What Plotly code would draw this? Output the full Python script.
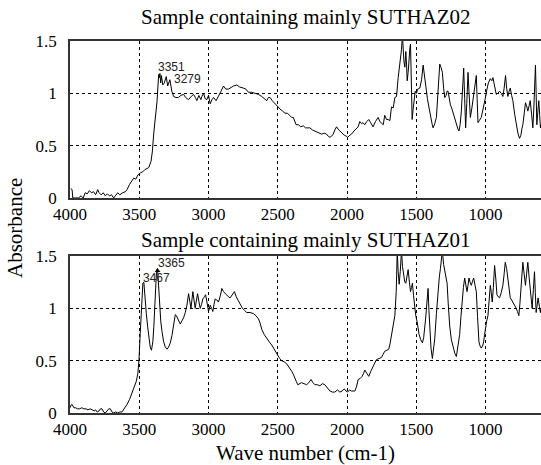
import plotly.graph_objects as go

# ---------------- data ----------------
wn_top = [3995, 3985, 3980, 3960, 3940, 3920, 3905, 3890, 3875, 3860, 3845, 3830, 3815, 3800, 3790, 3775, 3760, 3745,
          3730, 3715, 3700, 3685, 3670, 3655, 3640, 3620, 3600, 3588, 3570, 3555, 3540, 3525, 3510, 3492, 3475, 3460,
          3445, 3432, 3415, 3405, 3396, 3384, 3372, 3360, 3355, 3351, 3345, 3340, 3330, 3319, 3305, 3295, 3285, 3279,
          3265, 3252, 3235, 3218, 3200, 3180, 3165, 3145, 3125, 3108, 3095, 3084, 3070, 3055, 3048, 3035, 3025, 3012,
          3000, 2988, 2975, 2964, 2945, 2928, 2910, 2892, 2875, 2856, 2844, 2820, 2796, 2775, 2748, 2730, 2712, 2690,
          2664, 2640, 2616, 2595, 2580, 2568, 2556, 2540, 2520, 2500, 2484, 2465, 2448, 2430, 2412, 2400, 2388, 2378,
          2368, 2350, 2335, 2316, 2300, 2285, 2268, 2250, 2232, 2215, 2200, 2184, 2165, 2148, 2136, 2124, 2112, 2100,
          2088, 2076, 2060, 2040, 2020, 2005, 1996, 1980, 1968, 1950, 1932, 1920, 1908, 1895, 1885, 1872, 1858, 1843,
          1830, 1820, 1812, 1795, 1776, 1763, 1752, 1739, 1728, 1715, 1704, 1691, 1679, 1667, 1655, 1643, 1631, 1622,
          1614, 1607, 1600, 1595, 1590, 1583, 1576, 1570, 1566, 1559, 1552, 1546, 1542, 1536, 1530, 1523, 1516, 1508,
          1499, 1490, 1475, 1462, 1451, 1445, 1438, 1432, 1420, 1408, 1395, 1385, 1379, 1367, 1355, 1345, 1336, 1331,
          1322, 1312, 1303, 1295, 1285, 1278, 1271, 1262, 1254, 1245, 1237, 1230, 1222, 1211, 1200, 1192, 1184, 1175,
          1166, 1158, 1151, 1144, 1136, 1127, 1120, 1110, 1100, 1091, 1080, 1072, 1067, 1061, 1055, 1045, 1031, 1020,
          1007, 998, 990, 980, 966, 955, 947, 935, 923, 912, 899, 887, 875, 866, 856, 848, 839, 830, 822, 812, 803,
          790, 779, 767, 755, 745, 738, 731, 720, 712, 704, 695, 686, 678, 668, 659, 652, 646, 640, 635, 630, 623,
          616, 610, 604, 600]
abs_top = [0.09, 0.08, 0.0, 0.0, 0.0, 0.02, 0.0, 0.05, 0.04, 0.07, 0.05, 0.06, 0.03, 0.08, 0.05, 0.03, 0.05, 0.02,
           0.04, 0.02, 0.03, 0.0, 0.02, 0.05, 0.03, 0.05, 0.06, 0.08, 0.13, 0.16, 0.19, 0.18, 0.22, 0.24, 0.25, 0.27,
           0.28, 0.29, 0.35, 0.45, 0.61, 0.78, 0.92, 1.18, 1.15, 1.19, 1.10, 1.17, 1.08, 1.10, 1.16, 1.07, 1.11, 1.13,
           1.02, 0.97, 0.96, 0.96, 0.98, 0.99, 0.96, 0.94, 0.97, 0.99, 0.96, 0.93, 0.98, 0.94, 0.97, 1.00, 0.95, 0.94,
           0.98, 0.90, 0.94, 0.96, 0.93, 0.97, 1.02, 1.07, 1.04, 1.04, 1.05, 1.07, 1.08, 1.06, 1.05, 1.04, 1.01, 1.01,
           1.00, 0.99, 0.97, 0.95, 0.93, 0.96, 0.96, 0.93, 0.90, 0.88, 0.85, 0.83, 0.81, 0.81, 0.79, 0.77, 0.77, 0.74,
           0.70, 0.70, 0.68, 0.69, 0.67, 0.67, 0.67, 0.65, 0.64, 0.63, 0.62, 0.61, 0.62, 0.61, 0.59, 0.58, 0.59, 0.61,
           0.65, 0.68, 0.65, 0.62, 0.60, 0.59, 0.58, 0.60, 0.61, 0.64, 0.66, 0.68, 0.73, 0.71, 0.72, 0.70, 0.73, 0.75,
           0.72, 0.70, 0.68, 0.73, 0.77, 0.73, 0.72, 0.70, 0.79, 0.75, 0.75, 0.74, 0.87, 0.86, 0.96, 0.97, 1.15, 1.24,
           1.31, 1.42, 1.55, 1.40, 1.31, 1.25, 1.40, 1.26, 1.12, 1.20, 1.37, 1.44, 1.47, 1.10, 0.75, 0.85, 0.96, 1.02,
           1.00, 1.04, 1.05, 1.13, 1.27, 1.20, 1.10, 1.08, 0.95, 0.86, 0.75, 0.70, 0.67, 0.71, 0.77, 1.00, 1.20, 1.28,
           1.25, 1.20, 1.05, 0.96, 0.98, 1.02, 1.02, 0.95, 0.89, 0.86, 0.82, 0.80, 0.75, 0.70, 0.66, 0.64, 0.70, 0.83,
           1.05, 1.24, 0.95, 0.67, 0.90, 1.20, 1.02, 0.77, 0.85, 0.93, 1.02, 1.12, 1.17, 0.95, 0.72, 0.74, 0.77, 0.84,
           0.91, 0.98, 1.04, 1.10, 1.14, 1.12, 1.15, 1.06, 0.99, 1.00, 1.02, 1.00, 0.97, 1.05, 1.17, 1.05, 0.97, 1.02,
           1.05, 0.98, 0.93, 0.80, 0.70, 0.62, 0.57, 0.60, 0.66, 0.70, 0.82, 0.91, 0.88, 0.83, 0.88, 0.93, 0.80, 0.67,
           0.85, 1.10, 1.27, 1.00, 0.70, 0.82, 0.93, 0.80, 0.67, 0.70]

wn_bot = [4000, 3990, 3984, 3972, 3960, 3945, 3930, 3915, 3900, 3885, 3870, 3855, 3840, 3825, 3815, 3804, 3790, 3780,
          3769, 3757, 3745, 3730, 3720, 3709, 3697, 3685, 3670, 3655, 3640, 3625, 3607, 3589, 3570, 3553, 3538, 3522,
          3510, 3502, 3493, 3481, 3474, 3467, 3462, 3457, 3449, 3440, 3430, 3421, 3412, 3402, 3395, 3387, 3380, 3375,
          3368, 3362, 3353, 3345, 3336, 3324, 3312, 3300, 3288, 3276, 3264, 3252, 3240, 3232, 3223, 3214, 3204, 3192,
          3180, 3168, 3156, 3144, 3135, 3127, 3120, 3113, 3105, 3096, 3088, 3079, 3070, 3060, 3050, 3041, 3030, 3021,
          3010, 3000, 2994, 2988, 2978, 2969, 2960, 2952, 2940, 2928, 2915, 2904, 2892, 2880, 2868, 2856, 2844, 2828,
          2813, 2800, 2784, 2770, 2755, 2740, 2724, 2700, 2676, 2658, 2640, 2628, 2616, 2598, 2580, 2562, 2544, 2520,
          2500, 2486, 2472, 2455, 2436, 2418, 2400, 2388, 2376, 2366, 2356, 2342, 2328, 2310, 2292, 2276, 2260, 2246,
          2232, 2214, 2196, 2178, 2160, 2142, 2124, 2106, 2088, 2070, 2052, 2036, 2020, 2008, 1996, 1982, 1968, 1956,
          1944, 1932, 1920, 1905, 1891, 1880, 1872, 1858, 1843, 1828, 1812, 1800, 1788, 1770, 1752, 1740, 1728, 1712,
          1699, 1690, 1679, 1667, 1655, 1645, 1638, 1631, 1624, 1616, 1607, 1600, 1590, 1583, 1576, 1567, 1559, 1550,
          1542, 1535, 1528, 1520, 1513, 1504, 1494, 1487, 1480, 1468, 1456, 1447, 1439, 1433, 1427, 1421, 1415, 1409,
          1403, 1394, 1384, 1375, 1367, 1355, 1343, 1334, 1326, 1318, 1312, 1303, 1295, 1287, 1278, 1270, 1259, 1247,
          1235, 1222, 1211, 1200, 1187, 1178, 1168, 1160, 1151, 1142, 1134, 1127, 1120, 1112, 1103, 1094, 1086, 1076,
          1067, 1058, 1048, 1040, 1031, 1022, 1014, 1007, 1000, 992, 983, 975, 966, 959, 952, 944, 935, 926, 918, 908,
          899, 887, 875, 866, 858, 848, 839, 830, 822, 812, 803, 790, 779, 770, 760, 752, 743, 737, 731, 722, 712, 704,
          695, 686, 678, 671, 664, 655, 647, 641, 635, 628, 621, 612, 604, 600]
abs_bot = [0.05, 0.08, 0.08, 0.05, 0.05, 0.04, 0.04, 0.05, 0.04, 0.04, 0.03, 0.04, 0.03, 0.02, 0.03, 0.01, 0.02, 0.04,
           0.04, 0.01, 0.0, 0.02, 0.04, 0.04, 0.01, 0.0, 0.01, 0.0, 0.01, 0.01, 0.04, 0.08, 0.13, 0.19, 0.24, 0.30,
           0.38, 0.51, 0.76, 1.08, 1.24, 1.25, 1.15, 1.05, 0.95, 0.83, 0.70, 0.63, 0.60, 0.68, 0.82, 1.03, 1.25, 1.37,
           1.38, 1.22, 0.99, 0.88, 0.78, 0.68, 0.63, 0.61, 0.63, 0.67, 0.74, 0.85, 0.94, 0.93, 0.90, 0.88, 0.85, 0.88,
           0.91, 0.96, 1.03, 1.14, 1.05, 1.00, 1.08, 1.16, 1.08, 1.00, 1.07, 1.14, 1.07, 1.00, 1.04, 1.09, 1.11, 1.13,
           1.05, 0.97, 1.00, 1.03, 1.00, 0.97, 1.04, 1.09, 1.08, 1.06, 1.12, 1.19, 1.16, 1.14, 1.12, 1.11, 1.10, 1.13,
           1.16, 1.11, 1.07, 1.03, 1.00, 0.98, 0.96, 0.96, 0.95, 0.93, 0.90, 0.86, 0.80, 0.75, 0.71, 0.68, 0.65, 0.59,
           0.54, 0.52, 0.50, 0.49, 0.47, 0.44, 0.40, 0.37, 0.34, 0.30, 0.27, 0.28, 0.29, 0.28, 0.27, 0.29, 0.32, 0.29,
           0.27, 0.27, 0.26, 0.28, 0.27, 0.24, 0.21, 0.20, 0.20, 0.22, 0.20, 0.21, 0.23, 0.21, 0.20, 0.22, 0.21, 0.21,
           0.21, 0.25, 0.32, 0.33, 0.35, 0.38, 0.41, 0.38, 0.35, 0.40, 0.44, 0.47, 0.51, 0.52, 0.53, 0.56, 0.59, 0.60,
           0.61, 0.66, 0.74, 0.84, 0.93, 1.16, 1.55, 1.35, 1.23, 1.35, 1.55, 1.40, 1.31, 1.25, 1.24, 1.30, 1.37, 1.25,
           1.16, 1.20, 1.24, 1.12, 1.00, 0.93, 0.87, 0.80, 0.75, 0.70, 0.67, 0.72, 0.80, 0.90, 1.00, 1.10, 1.19, 0.98,
           0.78, 0.62, 0.52, 0.60, 0.71, 0.95, 1.19, 1.30, 1.38, 1.45, 1.55, 1.42, 1.35, 1.28, 1.24, 1.05, 0.83, 0.70,
           0.62, 0.57, 0.54, 0.62, 0.75, 0.92, 1.10, 1.20, 1.29, 1.20, 1.16, 1.22, 1.29, 1.25, 1.22, 1.26, 1.29, 1.22,
           1.16, 0.92, 0.68, 0.64, 0.62, 0.64, 0.68, 0.75, 0.83, 0.88, 0.93, 1.05, 1.22, 1.15, 1.06, 1.20, 1.41, 1.28,
           1.13, 1.11, 1.10, 1.15, 1.22, 1.33, 1.44, 1.38, 1.29, 1.18, 1.10, 1.08, 1.06, 1.03, 1.00, 0.97, 0.93, 1.05,
           1.22, 1.35, 1.44, 1.33, 1.22, 1.33, 1.44, 1.30, 1.16, 1.08, 1.00, 1.18, 1.35, 1.15, 0.96, 1.03, 1.10, 1.02,
           0.96, 1.00]

peak_wn_top = [3351, 3279]
label_abs_top = [1.25, 1.135]
label_shift_top = [-3, 3]
peak_wn_bot = [3467, 3365]
label_abs_bot = [1.29, 1.43]
label_shift_bot = [-2, -1]
marker_wn_bot = [3368]
marker_abs_bot = [1.36]

x_ticks = [4000, 3500, 3000, 2500, 2000, 1500, 1000]
y_ticks = [0, 0.5, 1, 1.5]
y_ticktext = ["0", "0.5", "1", "1.5"]
titles = ["Sample containing mainly SUTHAZ02", "Sample containing mainly SUTHAZ01"]
x_title = "Wave number (cm-1)"
y_title = "Absorbance"

# ---------------- figure ----------------
SERIF = "Liberation Serif, Times New Roman, serif"
SANS = "Liberation Sans, Arial, sans-serif"

fig = go.Figure()
fig.add_trace(go.Scatter(x=wn_top, y=abs_top, mode="lines", line=dict(color="#000", width=1),
                         xaxis="x", yaxis="y", showlegend=False, hoverinfo="skip"))
fig.add_trace(go.Scatter(x=wn_bot, y=abs_bot, mode="lines", line=dict(color="#000", width=1),
                         xaxis="x2", yaxis="y2", showlegend=False, hoverinfo="skip"))
fig.add_trace(go.Scatter(x=marker_wn_bot, y=marker_abs_bot, mode="markers",
                         marker=dict(symbol="triangle-up", size=5, color="#000"),
                         xaxis="x2", yaxis="y2", showlegend=False, hoverinfo="skip"))

axis_common = dict(
    showgrid=True, gridcolor="#000", gridwidth=1, griddash="3px,3px",
    showline=True, linecolor="#333", linewidth=1.5,
    zeroline=False, ticks="", tickfont=dict(family=SERIF, size=17, color="#000"),
)

fig.update_layout(
    width=541, height=465,
    margin=dict(l=70, r=0, t=41, b=52),
    paper_bgcolor="white", plot_bgcolor="white",
    xaxis=dict(domain=[0, 1], anchor="y", range=[4000, 600], tickvals=x_ticks, mirror=True, **axis_common),
    yaxis=dict(domain=[0.578, 1], anchor="x", range=[0, 1.5], tickvals=y_ticks, ticktext=y_ticktext,
               ticklabelstandoff=8, **axis_common),
    xaxis2=dict(domain=[0, 1], anchor="y2", range=[4000, 600], tickvals=x_ticks, mirror=True, **axis_common),
    yaxis2=dict(domain=[0, 0.422], anchor="x2", range=[0, 1.5], tickvals=y_ticks, ticktext=y_ticktext,
                ticklabelstandoff=8, **axis_common),
)

annotations = []
for xv, yv, sh in zip(peak_wn_top, label_abs_top, label_shift_top):
    annotations.append(dict(x=xv, y=yv, xref="x", yref="y", text=str(xv), showarrow=False,
                            xanchor="left", yanchor="middle", xshift=sh, borderpad=0,
                            font=dict(family=SANS, size=12, color="#222")))
for xv, yv, sh in zip(peak_wn_bot, label_abs_bot, label_shift_bot):
    annotations.append(dict(x=xv, y=yv, xref="x2", yref="y2", text=str(xv), showarrow=False,
                            xanchor="left", yanchor="middle", xshift=sh, borderpad=0,
                            font=dict(family=SANS, size=12, color="#222")))
annotations.append(dict(x=0.5, y=1.0645, xref="paper", yref="paper", text=titles[0], showarrow=False,
                        xanchor="center", yanchor="middle", font=dict(family=SERIF, size=21, color="#000")))
annotations.append(dict(x=0.5, y=0.465, xref="paper", yref="paper", text=titles[1], showarrow=False,
                        xanchor="center", yanchor="middle", font=dict(family=SERIF, size=21, color="#000")))
annotations.append(dict(x=0.5, y=-0.1075, xref="paper", yref="paper", text=x_title, showarrow=False,
                        xanchor="center", yanchor="middle", font=dict(family=SERIF, size=21, color="#000")))
annotations.append(dict(x=-0.117, y=0.497, xref="paper", yref="paper", text=y_title, showarrow=False,
                        textangle=-90, xanchor="center", yanchor="middle",
                        font=dict(family=SERIF, size=21, color="#000")))
fig.update_layout(annotations=annotations)

fig.write_html("out.html", config={"displayModeBar": False},
               post_script="document.body.style.margin='0';document.body.style.padding='0';")
